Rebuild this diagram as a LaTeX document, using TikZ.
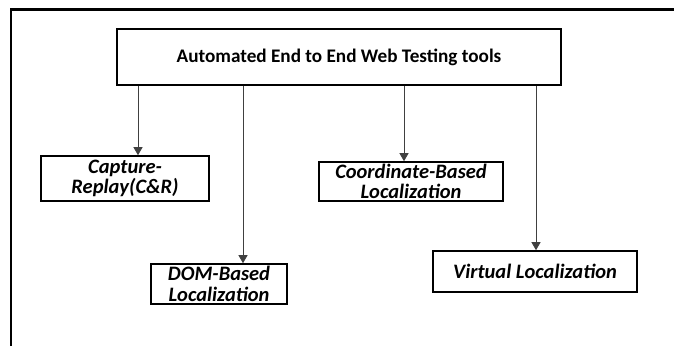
\documentclass[tikz,border=0pt]{standalone}
\usepackage{fontspec}
\setmainfont{Carlito}
\usetikzlibrary{arrows.meta}
\begin{document}
\begin{tikzpicture}[x=1pt,y=-1pt,
  box/.style={draw=black,line width=1.6pt,inner sep=0pt,align=center},
  kid/.style={box,font=\fontsize{20.5}{20.5}\selectfont\bfseries\itshape},
  arr/.style={draw=black!75,line width=0.8pt,-{Triangle[width=9pt,length=8pt]}}]
\useasboundingbox[fill=white] (0,0) rectangle (674,346);
\draw[line width=2.6pt] (11,346) -- (11,9.5) -- (674,9.5);
\node[box,minimum width=444pt,minimum height=56pt,font=\fontsize{19.2}{20}\selectfont\bfseries] (top) at (339,57) {Automated End to End Web Testing tools};
\node[kid,minimum width=168pt,minimum height=45pt] (cap) at (125,178.5) {Capture-\\Replay(C\&R)};
\node[kid,minimum width=136pt,minimum height=40pt] (dom) at (219,284) {DOM-Based\\Localization};
\node[kid,minimum width=184pt,minimum height=39pt] (coo) at (411,181.5) {Coordinate-Based\\Localization};
\node[kid,minimum width=204pt,minimum height=41pt] (vir) at (535,271.5) {Virtual Localization};
\coordinate (a1) at (138,0);
\coordinate (a2) at (243,0);
\coordinate (a3) at (404,0);
\coordinate (a4) at (536,0);
\draw[arr] (top.south -| a1) -- (cap.north -| a1);
\draw[arr] (top.south -| a2) -- (dom.north -| a2);
\draw[arr] (top.south -| a3) -- (coo.north -| a3);
\draw[arr] (top.south -| a4) -- (vir.north -| a4);
\end{tikzpicture}
\end{document}
